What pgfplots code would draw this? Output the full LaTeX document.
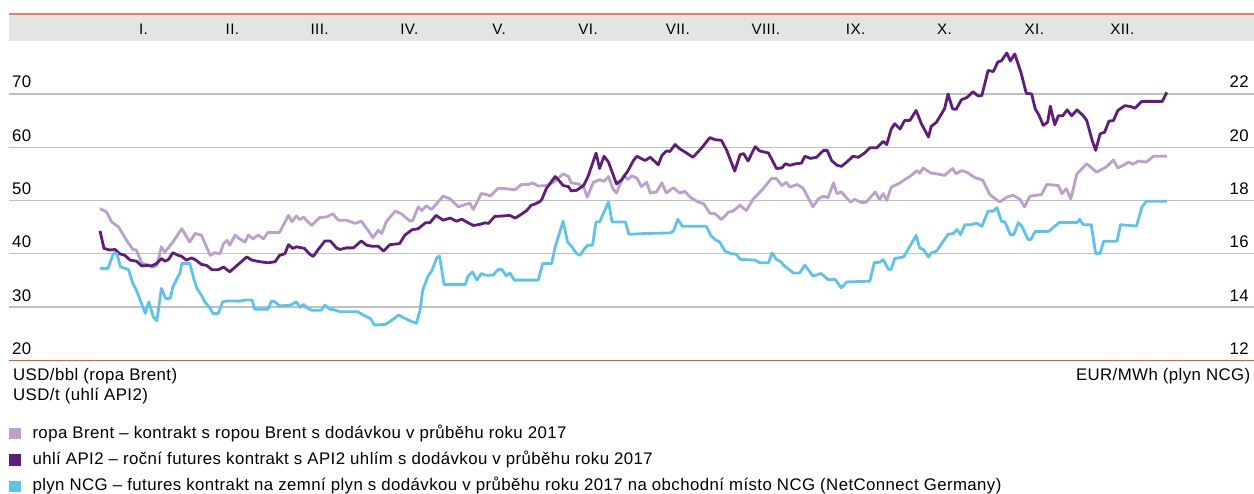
\documentclass[border=0pt]{standalone}
\usepackage{pgfplots}
\pgfplotsset{compat=1.18}
\usepackage{fontspec}
\setmainfont{Liberation Sans}[LetterSpace=2.5]
\definecolor{brent}{RGB}{187,160,206}
\definecolor{coal}{RGB}{96,28,124}
\definecolor{gas}{RGB}{92,196,236}
\definecolor{band}{RGB}{227,228,227}
\definecolor{gridc}{RGB}{192,192,192}
\definecolor{topline}{RGB}{236,128,100}
\definecolor{botline}{RGB}{240,92,40}
\newcommand{\tf}{\fontsize{16.8}{19}\selectfont}
\newcommand{\mf}{\fontsize{15.2}{18}\selectfont}
\begin{document}
\begin{tikzpicture}[x=1pt,y=1pt]
\begin{axis}[
  at={(9pt,133.7pt)}, anchor=south west, scale only axis,
  width=1245pt, height=346.3pt,
  xmin=-1.0236, xmax=12.981, ymin=20, ymax=85,
  clip=false,
  axis line style={draw=none},
  major tick length=0pt,
  xtick=\empty,
  ytick={20,30,...,70},
  ymajorgrids, grid style={gridc, line width=1.3pt},
  /pgf/number format/assume math mode=true,
  yticklabel style={anchor=base west, inner sep=0pt, xshift=3pt, yshift=6pt, font=\tf},
  every axis plot/.append style={line width=2.8pt, line join=round, no markers},
]
\fill[band] (axis cs:-1.0236,80) rectangle (axis cs:12.981,85);
\draw[topline, line width=1.5pt] (axis cs:-1.0236,85) -- (axis cs:12.981,85);
\draw[botline, line width=1.5pt] (axis cs:-1.0236,20) -- (axis cs:12.981,20);
\node[anchor=base, font=\mf] at (axis cs:0.49,81.2) {I.};
\node[anchor=base, font=\mf] at (axis cs:1.49,81.2) {II.};
\node[anchor=base, font=\mf] at (axis cs:2.47,81.2) {III.};
\node[anchor=base, font=\mf] at (axis cs:3.48,81.2) {IV.};
\node[anchor=base, font=\mf] at (axis cs:4.49,81.2) {V.};
\node[anchor=base, font=\mf] at (axis cs:5.49,81.2) {VI.};
\node[anchor=base, font=\mf] at (axis cs:6.50,81.2) {VII.};
\node[anchor=base, font=\mf] at (axis cs:7.49,81.2) {VIII.};
\node[anchor=base, font=\mf] at (axis cs:8.50,81.2) {IX.};
\node[anchor=base, font=\mf] at (axis cs:9.50,81.2) {X.};
\node[anchor=base, font=\mf] at (axis cs:10.51,81.2) {XI.};
\node[anchor=base, font=\mf] at (axis cs:11.50,81.2) {XII.};
% Brent
\addplot[brent] coordinates {
(0,48.5)(0.075,47.8)(0.13,46.0)(0.21,45.0)(0.30,42.5)(0.37,40.8)(0.41,40.7)(0.47,38.2)(0.53,38.0)(0.60,37.5)(0.64,37.8)(0.69,41.3)(0.73,40.3)(0.82,42.2)(0.92,44.7)(1.01,42.2)(1.07,43.8)(1.14,43.5)(1.24,39.7)(1.29,40.2)(1.35,40.0)(1.39,41.9)(1.43,42.5)(1.46,41.6)(1.52,43.5)(1.57,42.8)(1.63,42.2)(1.67,43.5)(1.72,42.8)(1.78,43.5)(1.84,42.8)(1.89,44.0)(1.97,44.0)(2.02,44.0)(2.12,47.2)(2.16,46.0)(2.21,47.1)(2.25,46.4)(2.29,46.9)(2.32,46.3)(2.38,45.3)(2.47,46.8)(2.55,46.9)(2.62,47.5)(2.68,46.3)(2.77,46.3)(2.87,45.7)(2.94,46.1)(3.04,43.8)(3.07,43.0)(3.13,44.4)(3.17,43.8)(3.22,46.0)(3.32,48.0)(3.39,47.5)(3.49,46.1)(3.52,46.3)(3.58,48.8)(3.62,48.1)(3.67,49.0)(3.73,48.3)(3.86,50.8)(3.94,50.3)(4.03,48.8)(4.12,49.3)(4.16,49.5)(4.20,48.3)(4.29,51.3)(4.35,51.1)(4.39,50.8)(4.48,52.3)(4.57,52.2)(4.67,52.0)(4.74,53.0)(4.82,53.0)(4.87,53.3)(4.93,52.7)(5.02,52.8)(5.10,53.4)(5.21,55.0)(5.27,54.5)(5.30,53.3)(5.38,53.1)(5.44,52.6)(5.48,50.6)(5.55,53.4)(5.62,53.9)(5.67,53.6)(5.72,54.5)(5.77,52.2)(5.81,51.4)(5.89,54.7)(5.94,53.9)(5.98,54.6)(6.04,54.2)(6.09,52.6)(6.15,53.4)(6.19,51.4)(6.26,51.6)(6.32,53.3)(6.37,51.4)(6.45,52.4)(6.52,51.4)(6.58,51.7)(6.64,50.6)(6.73,49.7)(6.79,49.4)(6.86,47.6)(6.92,47.5)(6.99,46.4)(7.07,47.8)(7.12,48.0)(7.20,49.1)(7.27,48.1)(7.35,50.3)(7.46,52.2)(7.55,54.1)(7.61,54.1)(7.67,52.8)(7.72,53.4)(7.76,52.5)(7.84,53.0)(7.91,52.3)(8.02,48.8)(8.08,50.3)(8.14,50.8)(8.19,50.5)(8.25,53.3)(8.29,51.3)(8.34,51.6)(8.44,49.7)(8.49,50.2)(8.57,49.6)(8.62,49.7)(8.72,51.6)(8.77,50.2)(8.81,51.3)(8.85,50.0)(8.90,52.5)(9.00,53.3)(9.04,53.8)(9.11,54.5)(9.19,55.6)(9.22,55.1)(9.26,56.1)(9.34,55.2)(9.41,55.0)(9.50,54.7)(9.59,56.0)(9.63,55.0)(9.69,55.6)(9.75,55.3)(9.84,54.3)(9.93,53.8)(10.01,51.1)(10.12,49.7)(10.20,50.6)(10.27,51.0)(10.35,50.2)(10.40,48.8)(10.46,50.8)(10.54,51.0)(10.59,51.1)(10.65,53.0)(10.78,52.8)(10.82,51.3)(10.87,52.2)(10.92,50.3)(10.99,55.0)(11.10,56.9)(11.21,55.3)(11.32,56.3)(11.40,57.6)(11.45,56.1)(11.51,56.6)(11.57,57.2)(11.62,56.8)(11.68,57.4)(11.77,57.2)(11.85,58.3)(12.00,58.3)
};
% Coal
\addplot[coal] coordinates {
(0,44.3)(0.045,41.0)(0.11,40.7)(0.17,40.8)(0.22,40.0)(0.28,39.7)(0.34,38.8)(0.41,38.6)(0.47,37.7)(0.53,37.8)(0.58,37.7)(0.64,38.2)(0.69,39.1)(0.73,38.6)(0.77,38.9)(0.82,40.2)(0.88,39.7)(0.92,39.5)(0.97,38.8)(1.03,39.2)(1.08,38.8)(1.14,38.0)(1.20,37.8)(1.26,37.0)(1.33,37.0)(1.39,37.5)(1.46,36.6)(1.52,37.5)(1.59,38.5)(1.65,39.4)(1.71,38.8)(1.80,38.5)(1.89,38.3)(1.97,38.5)(2.02,39.7)(2.08,40.0)(2.12,41.7)(2.17,41.0)(2.21,41.3)(2.30,41.0)(2.36,39.9)(2.40,39.5)(2.45,40.7)(2.53,42.4)(2.59,42.4)(2.66,41.1)(2.70,40.8)(2.77,41.1)(2.85,41.1)(2.94,42.4)(3.00,41.6)(3.06,41.4)(3.13,41.4)(3.19,40.5)(3.26,41.7)(3.37,41.9)(3.43,43.5)(3.51,44.5)(3.58,44.7)(3.66,45.8)(3.71,45.8)(3.78,47.2)(3.86,46.3)(3.94,46.7)(4.01,46.1)(4.07,46.5)(4.12,46.0)(4.20,45.3)(4.27,45.5)(4.33,45.8)(4.37,45.7)(4.44,47.0)(4.54,47.1)(4.61,47.2)(4.67,46.7)(4.72,47.2)(4.80,48.1)(4.85,49.1)(4.89,49.3)(4.95,49.8)(4.97,50.2)(5.02,52.2)(5.12,54.5)(5.16,53.8)(5.21,52.8)(5.27,52.6)(5.30,51.8)(5.36,51.9)(5.44,52.8)(5.49,54.5)(5.58,58.9)(5.62,56.0)(5.67,58.3)(5.72,57.2)(5.81,53.1)(5.87,53.9)(5.94,55.6)(6.00,57.5)(6.04,58.3)(6.13,57.5)(6.19,58.1)(6.28,56.7)(6.32,58.4)(6.37,59.3)(6.41,59.2)(6.47,60.5)(6.52,59.7)(6.58,59.1)(6.67,58.1)(6.77,59.9)(6.86,61.8)(6.92,61.4)(6.99,61.3)(7.05,59.4)(7.14,55.5)(7.20,58.6)(7.24,58.8)(7.29,57.4)(7.37,60.1)(7.42,59.3)(7.52,58.9)(7.61,56.0)(7.67,56.1)(7.71,56.9)(7.76,56.6)(7.83,56.9)(7.89,57.0)(7.93,58.3)(7.99,57.9)(8.06,58.1)(8.14,59.4)(8.18,59.4)(8.23,57.5)(8.29,56.6)(8.34,56.4)(8.40,57.2)(8.47,58.3)(8.53,58.1)(8.60,58.9)(8.66,59.9)(8.74,59.9)(8.81,61.1)(8.85,60.5)(8.90,63.4)(8.94,64.4)(9.00,63.4)(9.05,65.0)(9.11,65.0)(9.18,66.9)(9.24,64.4)(9.32,61.9)(9.35,63.9)(9.41,64.7)(9.50,67.2)(9.54,70.0)(9.59,67.2)(9.63,67.1)(9.69,68.9)(9.75,69.3)(9.82,70.4)(9.88,69.6)(9.92,69.7)(9.99,74.4)(10.05,74.2)(10.10,76.0)(10.14,76.2)(10.20,77.7)(10.24,76.2)(10.29,77.5)(10.36,74.0)(10.42,70.1)(10.48,70.0)(10.52,67.2)(10.56,66.1)(10.61,64.1)(10.66,64.7)(10.69,67.7)(10.74,64.2)(10.78,65.9)(10.83,65.9)(10.88,67.0)(10.93,65.9)(10.99,67.0)(11.06,65.9)(11.10,65.0)(11.16,61.3)(11.20,59.4)(11.25,62.5)(11.30,62.8)(11.35,64.9)(11.40,65.0)(11.45,66.9)(11.53,67.8)(11.60,67.6)(11.64,67.3)(11.72,68.6)(11.95,68.6)(12.00,70.3)
};
\end{axis}
\begin{axis}[
  at={(9pt,133.7pt)}, anchor=south west, scale only axis,
  width=1245pt, height=346.3pt,
  xmin=-1.0236, xmax=12.981, ymin=12, ymax=25,
  clip=false,
  axis line style={draw=none},
  major tick length=0pt,
  xtick=\empty,
  ytick={12,14,...,22},
  yticklabel pos=right,
  /pgf/number format/assume math mode=true,
  yticklabel style={anchor=base east, inner sep=0pt, xshift=-5pt, yshift=6pt, font=\tf},
  every axis plot/.append style={line width=2.8pt, line join=round, no markers},
]
% Gas NCG (EUR/MWh)
\addplot[gas] coordinates {
(0,15.45)(0.09,15.45)(0.15,16.01)(0.19,16.01)(0.23,15.51)(0.28,15.45)(0.32,15.41)(0.37,14.88)(0.41,14.63)(0.51,13.76)(0.55,14.19)(0.60,13.63)(0.64,13.48)(0.69,14.70)(0.74,14.32)(0.79,14.32)(0.82,14.76)(0.90,15.28)(0.92,15.63)(1.01,15.63)(1.06,15.01)(1.09,14.70)(1.14,14.45)(1.18,14.19)(1.24,13.95)(1.27,13.76)(1.33,13.76)(1.38,14.19)(1.43,14.23)(1.57,14.22)(1.63,14.26)(1.71,14.26)(1.74,13.92)(1.89,13.92)(1.93,14.23)(1.97,14.19)(2.02,14.04)(2.14,14.07)(2.21,14.19)(2.25,13.99)(2.29,14.10)(2.32,13.99)(2.38,13.88)(2.49,13.88)(2.53,14.07)(2.59,13.91)(2.62,13.91)(2.70,13.82)(2.90,13.82)(2.96,13.70)(3.04,13.57)(3.09,13.32)(3.21,13.35)(3.26,13.45)(3.36,13.70)(3.41,13.61)(3.51,13.45)(3.56,13.39)(3.60,13.88)(3.63,14.63)(3.69,15.16)(3.73,15.34)(3.79,15.86)(3.82,15.91)(3.87,14.85)(4.11,14.85)(4.14,15.16)(4.19,15.32)(4.24,15.01)(4.29,15.26)(4.34,15.19)(4.42,15.19)(4.48,15.41)(4.52,15.41)(4.57,15.17)(4.61,15.28)(4.66,15.01)(4.93,15.01)(4.98,15.63)(5.08,15.63)(5.12,16.25)(5.21,17.22)(5.26,16.44)(5.31,16.25)(5.36,16.01)(5.40,15.94)(5.45,16.19)(5.49,16.32)(5.54,16.32)(5.58,17.19)(5.62,17.19)(5.72,17.94)(5.76,17.19)(5.91,17.19)(5.95,16.73)(6.13,16.76)(6.41,16.78)(6.45,16.85)(6.50,17.29)(6.55,17.03)(6.82,17.03)(6.87,16.69)(6.92,16.53)(6.97,16.44)(7.03,16.10)(7.09,16.01)(7.16,15.98)(7.20,15.79)(7.37,15.76)(7.42,15.66)(7.52,15.66)(7.56,16.03)(7.61,15.78)(7.65,15.72)(7.71,15.51)(7.80,15.28)(7.87,15.28)(7.93,15.57)(8.02,15.16)(8.11,15.26)(8.19,15.03)(8.27,15.03)(8.34,14.72)(8.40,14.94)(8.66,14.97)(8.71,15.67)(8.77,15.68)(8.81,15.78)(8.87,15.41)(8.90,15.42)(8.94,15.82)(9.01,15.86)(9.04,15.88)(9.11,16.28)(9.18,16.69)(9.22,16.22)(9.26,16.16)(9.32,15.88)(9.35,16.03)(9.41,16.10)(9.48,16.44)(9.54,16.73)(9.60,16.76)(9.64,16.91)(9.68,16.72)(9.73,17.09)(9.80,17.09)(9.86,17.15)(9.92,17.03)(9.99,17.60)(10.05,17.60)(10.09,17.73)(10.14,17.22)(10.18,17.19)(10.24,16.72)(10.28,16.72)(10.33,17.17)(10.37,17.03)(10.44,16.53)(10.47,16.53)(10.52,16.84)(10.67,16.84)(10.79,17.17)(10.99,17.17)(11.02,17.29)(11.06,17.09)(11.15,17.09)(11.20,16.01)(11.25,16.01)(11.29,16.47)(11.44,16.47)(11.48,17.09)(11.66,17.04)(11.72,17.75)(11.77,17.97)(12.00,17.97)
};
\end{axis}
% unit labels
\node[anchor=base west, inner sep=0pt, font=\tf] at (13pt,113.3pt) {USD/bbl (ropa Brent)};
\node[anchor=base west, inner sep=0pt, font=\tf] at (13pt,93.3pt) {USD/t (uhlí API2)};
\node[anchor=base east, inner sep=0pt, font=\tf] at (1250.5pt,113.3pt) {EUR/MWh (plyn NCG)};
% legend
\fill[brent] (9pt,55pt) rectangle (20.7pt,66.3pt);
\fill[coal] (9pt,28pt) rectangle (20.7pt,39.7pt);
\fill[gas] (9pt,1.7pt) rectangle (20.7pt,13.3pt);
\node[anchor=base west, inner sep=0pt, font=\tf] at (32.3pt,55.7pt) {ropa Brent – kontrakt s ropou Brent s dodávkou v průběhu roku 2017};
\node[anchor=base west, inner sep=0pt, font=\tf] at (32.3pt,29pt) {uhlí API2 – roční futures kontrakt s API2 uhlím s dodávkou v průběhu roku 2017};
\node[anchor=base west, inner sep=0pt, font=\tf] at (32.3pt,3pt) {plyn NCG – futures kontrakt na zemní plyn s dodávkou v průběhu roku 2017 na obchodní místo NCG (NetConnect Germany)};
\pgfresetboundingbox
\useasboundingbox (0pt,0pt) rectangle (1254pt,494pt);
\end{tikzpicture}
\end{document}
